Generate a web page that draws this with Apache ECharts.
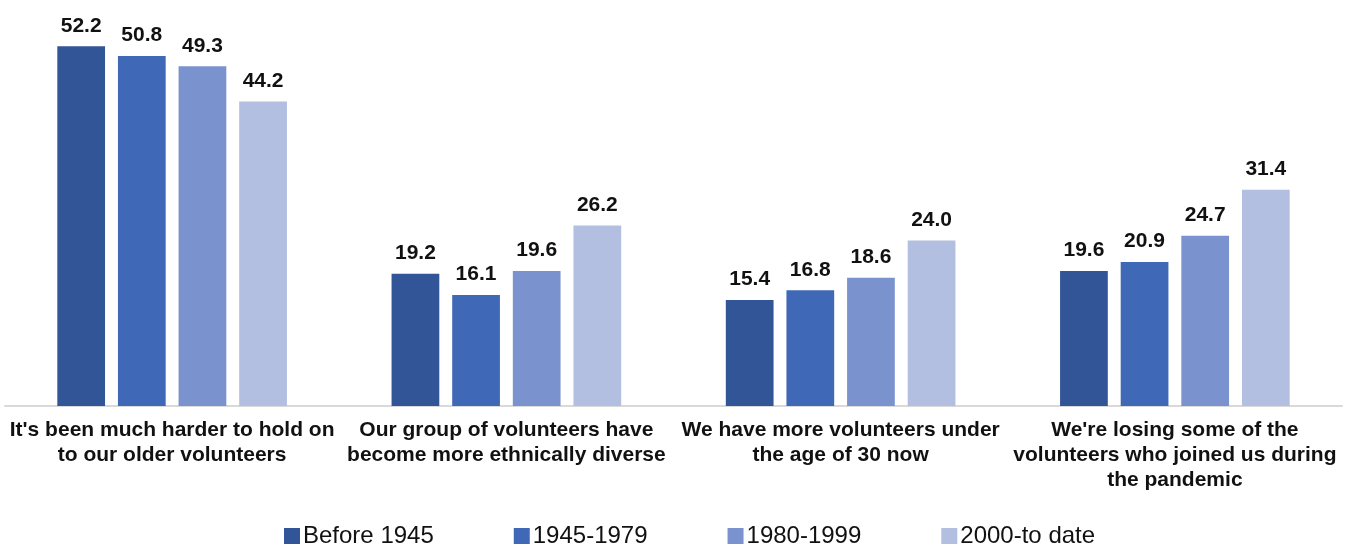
<!DOCTYPE html>
<html>
<head>
<meta charset="utf-8">
<script src="https://cdn.jsdelivr.net/npm/echarts@6/dist/echarts.min.js"></script>
<style>
    html, body { margin: 0; padding: 0; background: #fff; }
    #chart { width: 1355px; height: 545px; }
</style>
</head>
<body>
<div id="chart"></div>
<script>
    const categories = [
        "It's been much harder to hold on\nto our older volunteers",
        "Our group of volunteers have\nbecome more ethnically diverse",
        "We have more volunteers under\nthe age of 30 now",
        "We're losing some of the\nvolunteers who joined us during\nthe pandemic",
    ]
    const seriesNames = ["Before 1945", "1945-1979", "1980-1999", "2000-to date"]
    const before1945 = [52.2, 19.2, 15.4, 19.6]
    const from1945to1979 = [50.8, 16.1, 16.8, 20.9]
    const from1980to1999 = [49.3, 19.6, 18.6, 24.7]
    const from2000 = [44.2, 26.2, 24.0, 31.4]

    const colors = ["#325597", "#3F69B7", "#7A93CF", "#B3BFE0"]
    const font = "Arial, 'Liberation Sans', sans-serif"

    const chart = echarts.init(document.getElementById("chart"))

    const values = [before1945, from1945to1979, from1980to1999, from2000]

    const option = {
        animation: false,
        color: colors,
        legend: {
            data: seriesNames,
            left: 284,
            top: 524,
            padding: 0,
            itemWidth: 16,
            itemHeight: 16,
            itemGap: 80,
            icon: "rect",
            textStyle: {
                fontFamily: font,
                fontSize: 24,
                color: "#111",
                padding: [0, 0, 0, -2],
            },
        },
        grid: {
            left: 5,
            right: 13,
            top: 27,
            bottom: 139,
        },
        xAxis: {
            type: "category",
            data: categories,
            axisTick: { show: false },
            axisLine: {
                lineStyle: { color: "#d9d9d9", width: 2 },
            },
            axisLabel: {
                interval: 0,
                margin: 12,
                color: "#111",
                fontFamily: font,
                fontSize: 21,
                fontWeight: "bold",
                lineHeight: 25,
            },
        },
        yAxis: {
            type: "value",
            min: 0,
            max: 55,
            show: false,
            splitLine: { show: false },
        },
        series: seriesNames.map((name, i) => ({
            name: name,
            type: "bar",
            data: values[i],
            barGap: "27%",
            barCategoryGap: "31.3%",
            itemStyle: { color: colors[i] },
            label: {
                show: true,
                position: "top",
                distance: 10,
                color: "#111",
                fontFamily: font,
                fontSize: 21,
                fontWeight: "bold",
                formatter: (p) => p.value.toFixed(1),
            },
        })),
    }

    chart.setOption(option)
</script>
</body>
</html>
